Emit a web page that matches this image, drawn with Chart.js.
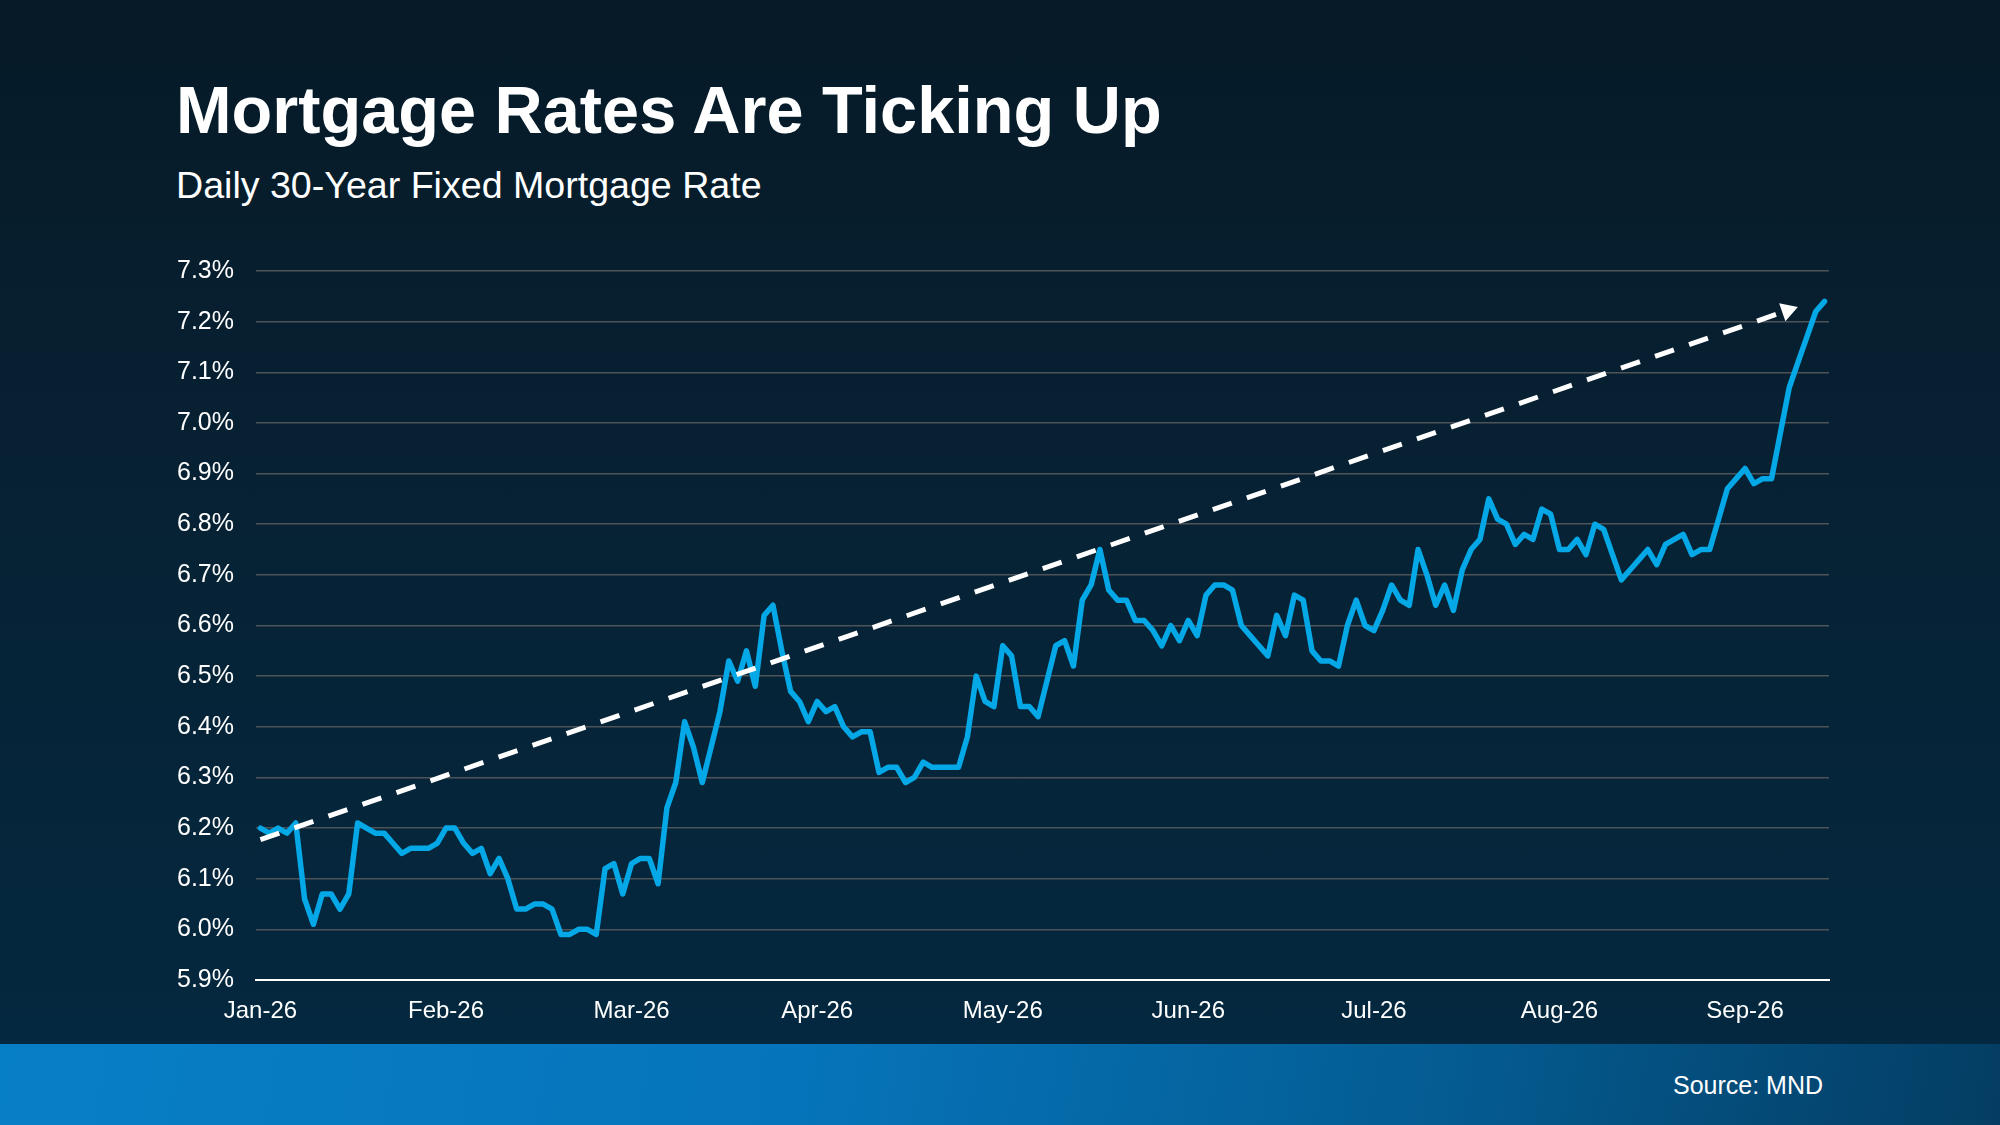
<!DOCTYPE html>
<html lang="en">
<head>
    <meta charset="utf-8" />
    <title>Mortgage Rates Are Ticking Up</title>
    <script src="https://cdn.jsdelivr.net/npm/chart.js@4.4.1/dist/chart.umd.min.js"></script>
    <style>
        html, body { margin: 0; padding: 0; }
        body { width: 2000px; height: 1125px; overflow: hidden; font-family: 'Liberation Sans', Arial, sans-serif; }
        .slide {
            position: relative; width: 2000px; height: 1125px;
            background: linear-gradient(180deg, #061a27 0%, #072133 40%, #04283f 92%);
        }
        .band {
            position: absolute; left: 0; top: 1044px; width: 2000px; height: 81px;
            background: linear-gradient(100deg, #077fc7 0%, #0674ba 40%, #045c92 72%, #043d63 100%);
        }
        h1 {
            position: absolute; left: 176px; top: 77px; margin: 0;
            font-size: 66.7px; line-height: 66px; font-weight: bold; color: #fff;
        }
        .sub {
            position: absolute; left: 176px; top: 167px; margin: 0;
            font-size: 37.6px; line-height: 37px; color: #fff;
        }
        .source {
            position: absolute; right: 177px; top: 1073px;
            font-size: 25px; line-height: 25px; color: #fff;
        }
        canvas { position: absolute; left: 0; top: 0; }
    </style>
</head>

<body>
    <div class="slide">
        <div class="band"></div>
        <h1>Mortgage Rates Are Ticking Up</h1>
        <div class="sub">Daily 30-Year Fixed Mortgage Rate</div>
        <div class="source">Source: MND</div>
        <canvas id="rateChart" width="2000" height="1125"></canvas>
    </div>

    <script>
        // month labels, one every 21 trading days
        const monthLabels = ['Jan-26', 'Feb-26', 'Mar-26', 'Apr-26', 'May-26', 'Jun-26', 'Jul-26', 'Aug-26', 'Sep-26'];
        const pointsPerMonth = 21;

        // daily 30-year fixed rate (%)
        const rates = [
            6.20, 6.19, 6.20, 6.19, 6.21, 6.06, 6.01, 6.07, 6.07, 6.04,
            6.07, 6.21, 6.20, 6.19, 6.19, 6.17, 6.15, 6.16, 6.16, 6.16,
            6.17, 6.20, 6.20, 6.17, 6.15, 6.16, 6.11, 6.14, 6.10, 6.04,
            6.04, 6.05, 6.05, 6.04, 5.99, 5.99, 6.00, 6.00, 5.99, 6.12,
            6.13, 6.07, 6.13, 6.14, 6.14, 6.09, 6.24, 6.29, 6.41, 6.36,
            6.29, 6.36, 6.43, 6.53, 6.49, 6.55, 6.48, 6.62, 6.64, 6.55,
            6.47, 6.45, 6.41, 6.45, 6.43, 6.44, 6.40, 6.38, 6.39, 6.39,
            6.31, 6.32, 6.32, 6.29, 6.30, 6.33, 6.32, 6.32, 6.32, 6.32,
            6.38, 6.50, 6.45, 6.44, 6.56, 6.54, 6.44, 6.44, 6.42, 6.49,
            6.56, 6.57, 6.52, 6.65, 6.68, 6.75, 6.67, 6.65, 6.65, 6.61,
            6.61, 6.59, 6.56, 6.60, 6.57, 6.61, 6.58, 6.66, 6.68, 6.68,
            6.67, 6.60, 6.58, 6.56, 6.54, 6.62, 6.58, 6.66, 6.65, 6.55,
            6.53, 6.53, 6.52, 6.60, 6.65, 6.60, 6.59, 6.63, 6.68, 6.65,
            6.64, 6.75, 6.70, 6.64, 6.68, 6.63, 6.71, 6.75, 6.77, 6.85,
            6.81, 6.80, 6.76, 6.78, 6.77, 6.83, 6.82, 6.75, 6.75, 6.77,
            6.74, 6.80, 6.79, 6.74, 6.69, 6.71, 6.73, 6.75, 6.72, 6.76,
            6.77, 6.78, 6.74, 6.75, 6.75, 6.81, 6.87, 6.89, 6.91, 6.88,
            6.89, 6.89, 6.98, 7.07, 7.12, 7.17, 7.22, 7.24
        ];

        // dashed trend arrow: start and head (index, rate)
        const trendX = [0, 172.8];
        const trendY = [6.177, 7.222];

        // y axis range / ticks
        const yMin = 5.9;
        const yMax = 7.3;
        const yStep = 0.1;

        const fontFamily = "'Liberation Sans', Arial, sans-serif";

        var ctx = document.getElementById('rateChart').getContext('2d');
        var rateChart = new Chart(ctx, {
            type: 'line',
            data: {
                datasets: [{
                    label: 'Trend',
                    data: trendX.map((x, k) => ({ x: x, y: trendY[k] })),
                    borderColor: '#ffffff',
                    borderWidth: 5,
                    borderDash: [20, 16],
                    pointRadius: [0, 11],
                    pointStyle: 'triangle',
                    pointBackgroundColor: '#ffffff',
                    pointBorderWidth: 0,
                    pointRotation: function (c) {
                        const xs = c.chart.scales.x, ys = c.chart.scales.y;
                        if (!xs || !ys) return 71;
                        const dx = xs.getPixelForValue(trendX[1]) - xs.getPixelForValue(trendX[0]);
                        const dy = ys.getPixelForValue(trendY[1]) - ys.getPixelForValue(trendY[0]);
                        return Math.atan2(dy, dx) * 180 / Math.PI + 90;
                    },
                    tension: 0,
                    order: 0
                }, {
                    label: 'Rate',
                    data: rates.map((v, i) => ({ x: i, y: v })),
                    borderColor: '#05a8e6',
                    borderWidth: 5.5,
                    borderJoinStyle: 'round',
                    borderCapStyle: 'round',
                    pointRadius: 0,
                    tension: 0,
                    order: 1
                }]
            },
            options: {
                responsive: false,
                devicePixelRatio: 1,
                animation: false,
                layout: { padding: { top: 271, left: 176, right: 171, bottom: 85 } },
                plugins: {
                    legend: { display: false },
                    tooltip: { enabled: false }
                },
                scales: {
                    x: {
                        type: 'linear',
                        min: -0.5,
                        max: rates.length - 0.5,
                        afterFit: function (s) { s.height = 60; },
                        afterBuildTicks: function (s) {
                            s.ticks = monthLabels.map((_, k) => ({ value: k * pointsPerMonth }));
                        },
                        grid: { display: false },
                        border: { display: true, color: '#ffffff', width: 2 },
                        ticks: {
                            color: '#ffffff',
                            padding: 9,
                            maxRotation: 0,
                            autoSkip: false,
                            font: { family: fontFamily, size: 24 },
                            callback: function (v) { return monthLabels[Math.round(v / pointsPerMonth)]; }
                        }
                    },
                    y: {
                        min: yMin,
                        max: yMax,
                        afterFit: function (s) { s.width = 80; },
                        grid: {
                            drawTicks: false,
                            color: function (c) { return Math.abs(c.tick.value - yMin) < 1e-6 ? '#ffffff' : '#4e5358'; },
                            lineWidth: function (c) { return Math.abs(c.tick.value - yMin) < 1e-6 ? 2 : 1.5; }
                        },
                        border: { display: false },
                        ticks: {
                            stepSize: yStep,
                            color: '#ffffff',
                            padding: 22,
                            font: { family: fontFamily, size: 25 },
                            callback: function (v) { return v.toFixed(1) + '%'; }
                        }
                    }
                }
            }
        });
    </script>
</body>

</html>
